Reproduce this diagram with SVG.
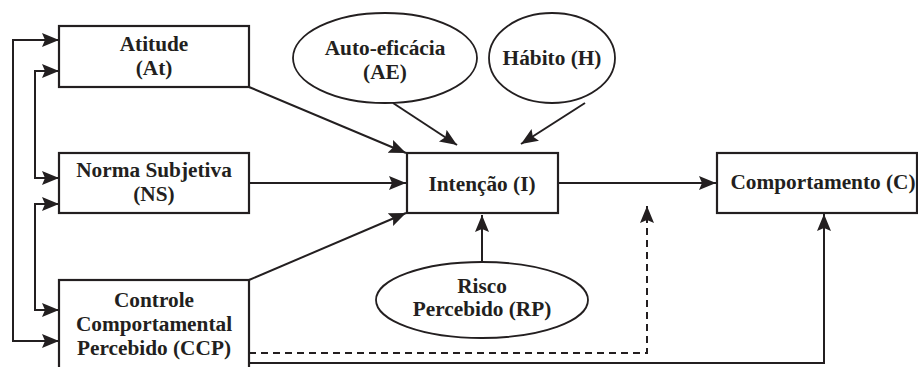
<svg xmlns="http://www.w3.org/2000/svg" width="918" height="367" viewBox="0 0 918 367">
<style>
.box{fill:#fff;stroke:#231f20;stroke-width:2.2}
.ell{fill:#fff;stroke:#231f20;stroke-width:1.8}
.t{font-family:"Liberation Serif","Times New Roman",serif;font-weight:bold;font-size:21.3px;fill:#231f20;text-anchor:middle}
.c{fill:none;stroke:#231f20;stroke-width:2}
.d{fill:none;stroke:#231f20;stroke-width:2;stroke-dasharray:7,5}
</style>
<defs>
<marker id="ah" markerUnits="userSpaceOnUse" markerWidth="18" markerHeight="16" refX="17" refY="7" orient="auto-start-reverse">
<path d="M0,0 L17,7 L0,14 L3,7 z" fill="#231f20"/>
</marker>
</defs>
<rect width="918" height="367" fill="#fff"/>
<g id="connectors">
<polyline class="c" points="59,40 13,40 13,341 59,341" marker-start="url(#ah)" marker-end="url(#ah)"/>
<polyline class="c" points="59,71 35,71 35,178 59,178" marker-start="url(#ah)" marker-end="url(#ah)"/>
<polyline class="c" points="59,204 35,204 35,310 59,310" marker-start="url(#ah)" marker-end="url(#ah)"/>
<line class="c" x1="249" y1="87" x2="406" y2="153" marker-end="url(#ah)"/>
<line class="c" x1="249" y1="183" x2="406" y2="183" marker-end="url(#ah)"/>
<line class="c" x1="249" y1="280" x2="406" y2="213" marker-end="url(#ah)"/>
<line class="c" x1="393" y1="103" x2="457" y2="145" marker-end="url(#ah)"/>
<line class="c" x1="585" y1="103" x2="521" y2="144" marker-end="url(#ah)"/>
<line class="c" x1="482" y1="262" x2="482" y2="215" marker-end="url(#ah)"/>
<line class="c" x1="558" y1="183" x2="716" y2="183" marker-end="url(#ah)"/>
<polyline class="d" points="249,353 647,353 647,206" marker-end="url(#ah)"/>
<polyline class="c" points="249,363 824,363 824,214" marker-end="url(#ah)"/>
</g>
<g id="atitude">
<rect class="box" x="59" y="26" width="190" height="61"/>
<text class="t" x="154" y="51">Atitude</text>
<text class="t" x="154" y="75">(At)</text>
</g>
<g id="norma">
<rect class="box" x="59" y="153" width="190" height="60"/>
<text class="t" x="154" y="177">Norma Subjetiva</text>
<text class="t" x="154" y="201">(NS)</text>
</g>
<g id="ccp">
<rect class="box" x="59" y="280" width="190" height="90"/>
<text class="t" x="154" y="307">Controle</text>
<text class="t" x="154" y="331">Comportamental</text>
<text class="t" x="154" y="355">Percebido (CCP)</text>
</g>
<g id="autoeficacia">
<ellipse class="ell" cx="385" cy="58" rx="92" ry="45"/>
<text class="t" x="385" y="55">Auto-eficácia</text>
<text class="t" x="385" y="79">(AE)</text>
</g>
<g id="habito">
<ellipse class="ell" cx="552" cy="58" rx="63" ry="45"/>
<text class="t" x="552" y="65">Hábito (H)</text>
</g>
<g id="intencao">
<rect class="box" x="407" y="153" width="151" height="60"/>
<text class="t" x="482" y="191">Intenção (I)</text>
</g>
<g id="risco">
<ellipse class="ell" cx="482" cy="300" rx="106" ry="38"/>
<text class="t" x="482" y="293">Risco</text>
<text class="t" x="482" y="316">Percebido (RP)</text>
</g>
<g id="comportamento">
<rect class="box" x="717" y="153" width="200" height="60"/>
<text class="t" x="823" y="189">Comportamento (C)</text>
</g>
</svg>
